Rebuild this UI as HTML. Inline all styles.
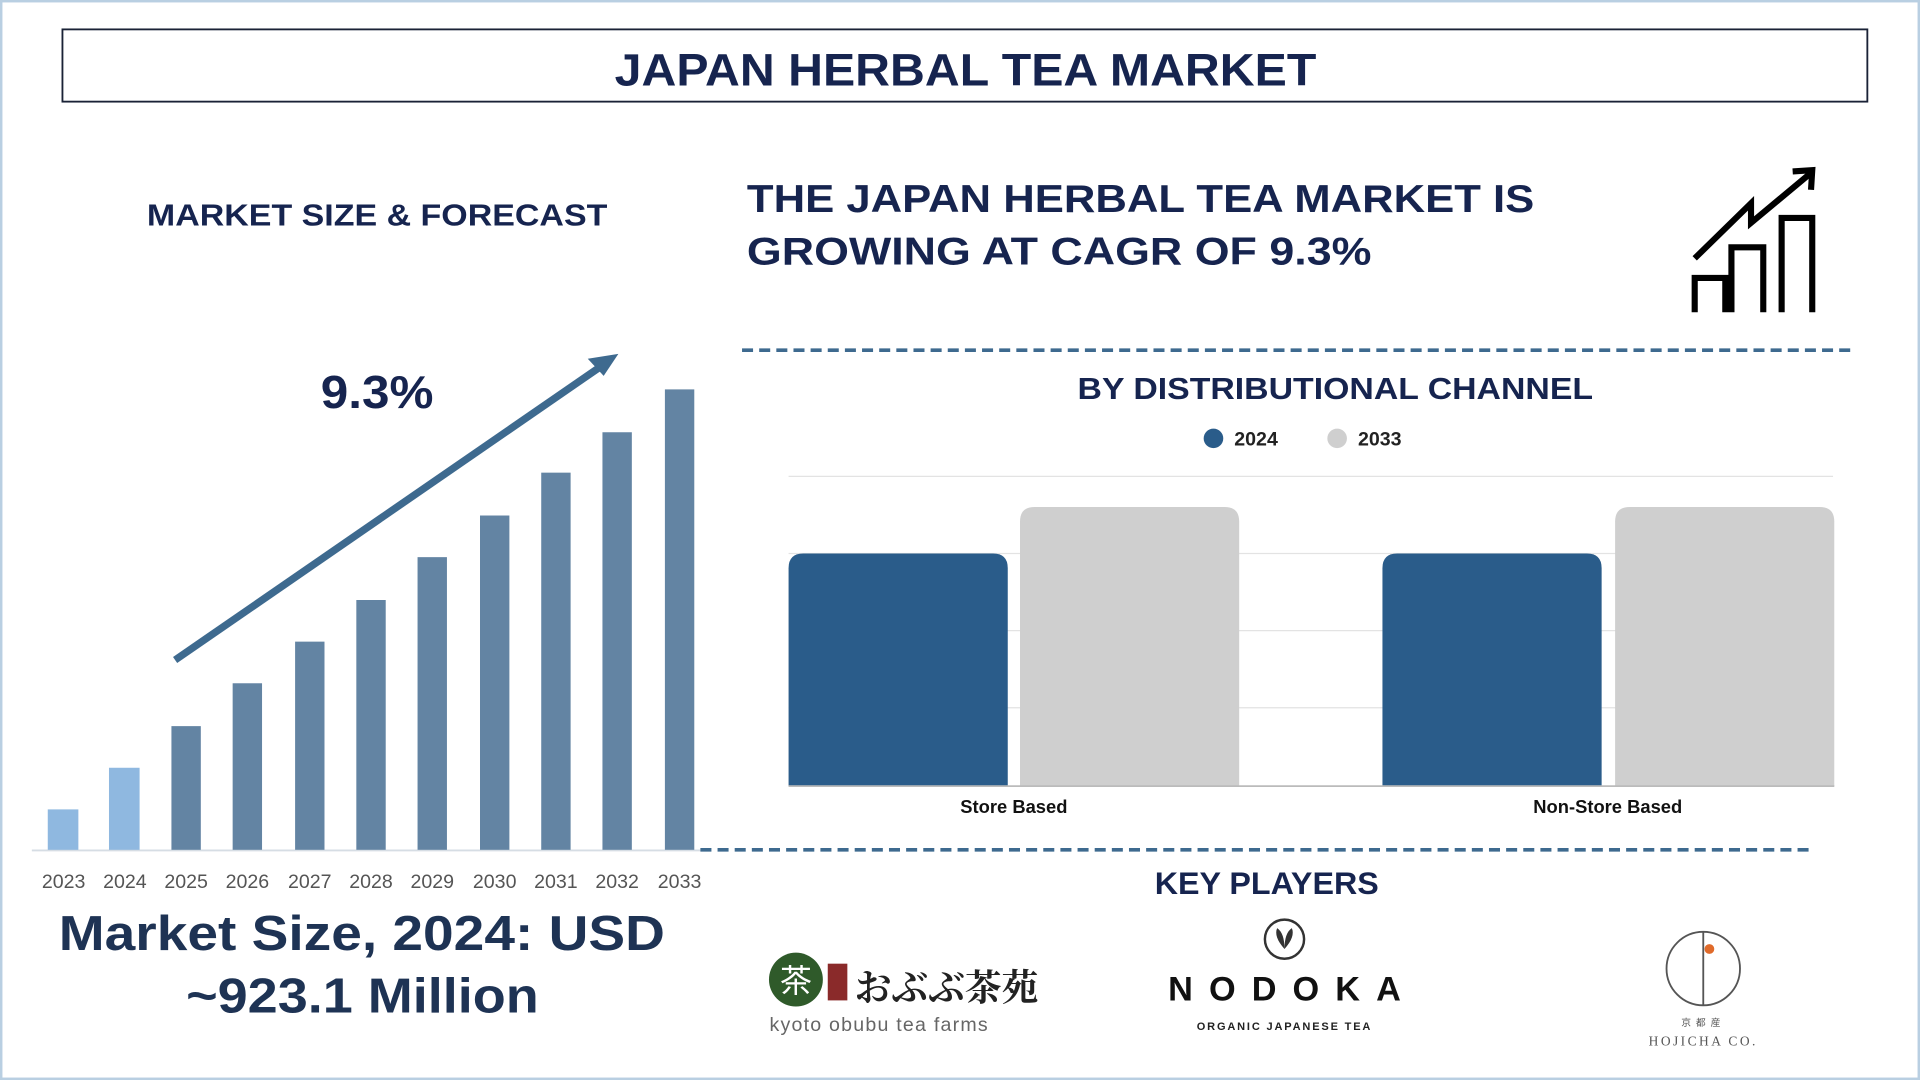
<!DOCTYPE html>
<html><head><meta charset="utf-8"><style>html,body{margin:0;padding:0;background:#fff}svg{display:block}</style></head><body>
<svg width="1920" height="1080" viewBox="0 0 1568 882" xmlns="http://www.w3.org/2000/svg" font-family="Liberation Sans, DejaVu Sans, sans-serif">
<rect x="0" y="0" width="1568" height="882" fill="#fff"/>
<rect x="1" y="1" width="1566" height="880" fill="none" stroke="#b9cfe2" stroke-width="2"/>
<rect x="51" y="24" width="1474" height="59" fill="#fff" stroke="#1a2236" stroke-width="1.5"/>
<text x="502" y="70" textLength="573" lengthAdjust="spacingAndGlyphs" font-size="37" font-weight="bold" fill="#16244f">JAPAN HERBAL TEA MARKET</text>
<text x="120" y="184" textLength="376" lengthAdjust="spacingAndGlyphs" font-size="25" font-weight="bold" fill="#16244f">MARKET SIZE &amp; FORECAST</text>
<text x="610" y="173" textLength="643" lengthAdjust="spacingAndGlyphs" font-size="32" font-weight="bold" fill="#16244f">THE JAPAN HERBAL TEA MARKET IS</text>
<text x="610" y="216" textLength="510" lengthAdjust="spacingAndGlyphs" font-size="32" font-weight="bold" fill="#16244f">GROWING AT CAGR OF 9.3%</text>
<g fill="none" stroke="#000" stroke-width="5">
<polyline points="1384,211 1430,166 1430,182 1478,142"/>
<polyline points="1464,140 1480,139 1479,155"/>
<path d="M1384,255 V227 H1409 V255 M1414,255 V202 H1440 V255 M1455,255 V178 H1480 V255"/>
</g>
<line x1="26" y1="694.5" x2="580" y2="694.5" stroke="#d6dde4" stroke-width="1.5"/>
<g fill="#6384a3">
<rect x="39" y="661" width="25" height="33" fill="#8fb8e0"/>
<rect x="89" y="627" width="25" height="67" fill="#8fb8e0"/>
<rect x="140" y="593" width="24" height="101"/>
<rect x="190" y="558" width="24" height="136"/>
<rect x="241" y="524" width="24" height="170"/>
<rect x="291" y="490" width="24" height="204"/>
<rect x="341" y="455" width="24" height="239"/>
<rect x="392" y="421" width="24" height="273"/>
<rect x="442" y="386" width="24" height="308"/>
<rect x="492" y="353" width="24" height="341"/>
<rect x="543" y="318" width="24" height="376"/>
</g>
<g font-size="16" fill="#555" text-anchor="middle">
<text x="52" y="725">2023</text><text x="102" y="725">2024</text><text x="152" y="725">2025</text><text x="202" y="725">2026</text><text x="253" y="725">2027</text><text x="303" y="725">2028</text><text x="353" y="725">2029</text><text x="404" y="725">2030</text><text x="454" y="725">2031</text><text x="504" y="725">2032</text><text x="555" y="725">2033</text>
</g>
<line x1="143" y1="539" x2="494" y2="297" stroke="#3e6a8f" stroke-width="6"/>
<polygon points="505,289 480,293 493,307" fill="#3e6a8f"/>
<text x="262" y="333" textLength="92" lengthAdjust="spacingAndGlyphs" font-size="38" font-weight="bold" fill="#16244f">9.3%</text>
<text x="48" y="776" textLength="495" lengthAdjust="spacingAndGlyphs" font-size="40" font-weight="bold" fill="#1e3354">Market Size, 2024: USD</text>
<text x="152" y="827" textLength="288" lengthAdjust="spacingAndGlyphs" font-size="40" font-weight="bold" fill="#1e3354">~923.1 Million</text>
<line x1="606" y1="286" x2="1512" y2="286" stroke="#3e6a8f" stroke-width="3" stroke-dasharray="9,5"/>
<line x1="572" y1="694" x2="1480" y2="694" stroke="#3e6a8f" stroke-width="3" stroke-dasharray="9,5"/>
<text x="880" y="326" textLength="421" lengthAdjust="spacingAndGlyphs" font-size="25" font-weight="bold" fill="#16244f">BY DISTRIBUTIONAL CHANNEL</text>
<circle cx="991" cy="358" r="8" fill="#2a5c8a"/><text x="1008" y="364" font-size="16" font-weight="bold" fill="#222">2024</text>
<circle cx="1092" cy="358" r="8" fill="#cfcfcf"/><text x="1109" y="364" font-size="16" font-weight="bold" fill="#222">2033</text>
<g stroke="#e3e3e3" stroke-width="1"><line x1="644" y1="389" x2="1497" y2="389"/><line x1="644" y1="452" x2="1497" y2="452"/><line x1="644" y1="515" x2="1497" y2="515"/><line x1="644" y1="578" x2="1497" y2="578"/></g>
<path d="M644,642 V464 Q644,452 656,452 H811 Q823,452 823,464 V642Z" fill="#2a5c8a"/>
<path d="M833,642 V426 Q833,414 845,414 H1000 Q1012,414 1012,426 V642Z" fill="#cfcfcf"/>
<path d="M1129,642 V464 Q1129,452 1141,452 H1296 Q1308,452 1308,464 V642Z" fill="#2a5c8a"/>
<path d="M1319,642 V426 Q1319,414 1331,414 H1486 Q1498,414 1498,426 V642Z" fill="#cfcfcf"/>
<line x1="644" y1="642" x2="1498" y2="642" stroke="#bbb" stroke-width="1.5"/>
<text x="828" y="664" text-anchor="middle" font-size="15" font-weight="bold" fill="#111">Store Based</text>
<text x="1313" y="664" text-anchor="middle" font-size="15" font-weight="bold" fill="#111">Non-Store Based</text>
<text x="943" y="730" textLength="183" lengthAdjust="spacingAndGlyphs" font-size="26" font-weight="bold" fill="#16244f">KEY PLAYERS</text>
<circle cx="650" cy="800" r="22" fill="#2f5a2a"/>
<text x="650" y="810" text-anchor="middle" font-size="26" fill="#fff" font-family="Noto Sans CJK JP, sans-serif">茶</text>
<rect x="676" y="787" width="16" height="30" fill="#8a2a2a"/>
<text x="698" y="817" font-size="30" font-weight="bold" fill="#222" font-family="Noto Serif CJK SC, Noto Sans CJK JP, serif">おぶぶ茶苑</text>
<text x="718" y="842" text-anchor="middle" font-size="16" fill="#666" letter-spacing="1">kyoto obubu tea farms</text>
<circle cx="1049" cy="767" r="16" fill="none" stroke="#333" stroke-width="2"/>
<path d="M1049,775 Q1040,765 1043,758 Q1049,762 1049,775 Q1058,765 1055,758 Q1049,762 1049,775" fill="#333"/>
<text x="954" y="817" textLength="190" lengthAdjust="spacing" font-size="28" font-weight="bold" fill="#111">NODOKA</text>
<text x="1049" y="841" text-anchor="middle" font-size="9" font-weight="bold" fill="#222" letter-spacing="1.5">ORGANIC JAPANESE TEA</text>
<circle cx="1391" cy="791" r="30" fill="none" stroke="#555" stroke-width="1.5"/>
<line x1="1391" y1="761" x2="1391" y2="821" stroke="#555" stroke-width="1.5"/>
<circle cx="1396" cy="775" r="4" fill="#e06a2a"/>
<text x="1391" y="838" text-anchor="middle" font-size="8" fill="#555" letter-spacing="4" font-family="Noto Sans CJK JP, sans-serif">京都産</text>
<text x="1391" y="854" text-anchor="middle" font-size="11" fill="#555" letter-spacing="2" font-family="Liberation Serif, serif">HOJICHA CO.</text>
</svg>
</body></html>
